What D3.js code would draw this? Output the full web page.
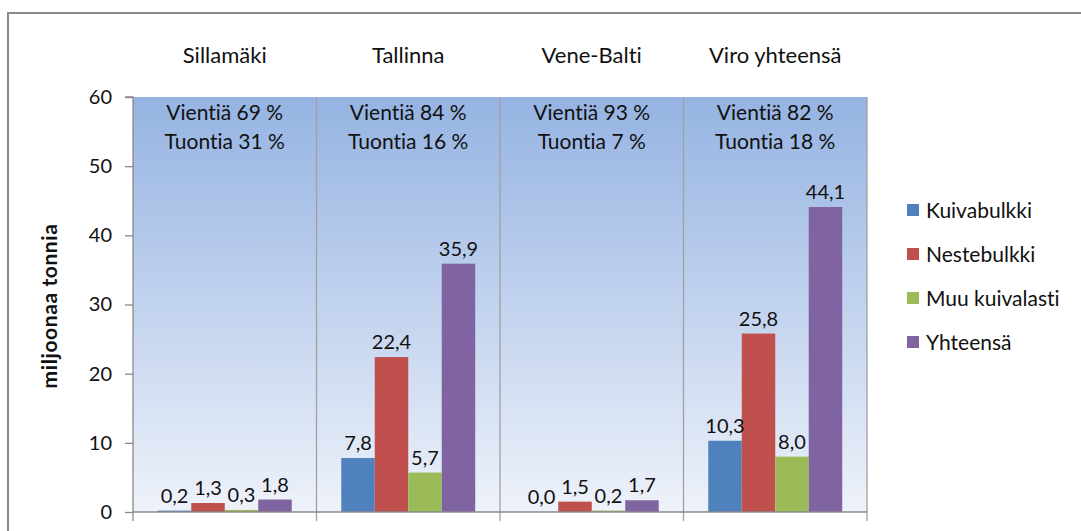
<!DOCTYPE html>
<html>
<head>
<meta charset="utf-8">
<script src="https://cdn.jsdelivr.net/npm/d3@7"></script>
<style>
  body { margin: 0; background: #fff; }
  text { font-family: Lato, "Open Sans", sans-serif; fill: #111; font-variant-ligatures: none; font-feature-settings: "liga" 0, "clig" 0; }
</style>
</head>
<body>
<div id="chart"></div>
<script>
var categories = ['Sillamäki', 'Tallinna', 'Vene-Balti', 'Viro yhteensä'];
var series = ['Kuivabulkki', 'Nestebulkki', 'Muu kuivalasti', 'Yhteensä'];
var kuivabulkki = [0.2, 7.8, 0.0, 10.3];
var nestebulkki = [1.3, 22.4, 1.5, 25.8];
var muuKuivalasti = [0.3, 5.7, 0.2, 8.0];
var yhteensa = [1.8, 35.9, 1.7, 44.1];
var vienti = [69, 84, 93, 82];
var tuonti = [31, 16, 7, 18];
var yTicks = [0, 10, 20, 30, 40, 50, 60];
var colors = ['#4f81bd', '#c0504d', '#9bbb59', '#8064a2'];

var values = [kuivabulkki, nestebulkki, muuKuivalasti, yhteensa];

var width = 1081, height = 531;
var plot = { left: 133, right: 867, top: 97, bottom: 512 };

var svg = d3.select('#chart')
  .append('svg')
  .attr('width', width)
  .attr('height', height);

// outer chart border (runs off the right and bottom edge)
svg.append('rect')
  .attr('x', 8).attr('y', 13)
  .attr('width', 1100).attr('height', 560)
  .attr('fill', 'none')
  .attr('stroke', '#8a8a8a')
  .attr('stroke-width', 2);

var defs = svg.append('defs');
var grad = defs.append('linearGradient')
  .attr('id', 'bg-grad')
  .attr('x1', 0).attr('y1', 0).attr('x2', 0).attr('y2', 1);
grad.append('stop').attr('offset', '0%').attr('stop-color', '#95b3e2');
grad.append('stop').attr('offset', '100%').attr('stop-color', '#eef2fa');

var x0 = d3.scaleBand()
  .domain(categories)
  .range([plot.left, plot.right])
  .padding(0);

var x1 = d3.scaleBand()
  .domain(series)
  .range([0, x0.bandwidth()])
  .paddingInner(0)
  .paddingOuter(0.74);

var y = d3.scaleLinear()
  .domain([0, 60])
  .range([plot.bottom, plot.top]);

// plot area background
svg.append('rect')
  .attr('x', plot.left).attr('y', plot.top)
  .attr('width', plot.right - plot.left)
  .attr('height', plot.bottom - plot.top)
  .attr('fill', 'url(#bg-grad)');

// category dividers (and their ticks below the axis)
svg.selectAll('line.divider')
  .data(categories.slice(1).concat(['end']))
  .enter()
  .append('line')
  .attr('class', 'divider')
  .attr('x1', function(d, i) { return plot.left + x0.step() * (i + 1); })
  .attr('x2', function(d, i) { return plot.left + x0.step() * (i + 1); })
  .attr('y1', plot.top)
  .attr('y2', plot.bottom + 9)
  .attr('stroke', '#a0a0a0')
  .attr('stroke-width', 1.3);

// bars
var groups = svg.selectAll('g.cat')
  .data(categories)
  .enter()
  .append('g')
  .attr('class', 'cat')
  .attr('transform', function(d) { return 'translate(' + x0(d) + ',0)'; });

var fmt = function(v) { return v.toFixed(1).replace('.', ','); };

groups.each(function(cat, ci) {
  var g = d3.select(this);
  var rows = series.map(function(s, si) { return { s: s, si: si, v: values[si][ci] }; });
  g.selectAll('rect')
    .data(rows)
    .enter()
    .append('rect')
    .attr('x', function(d) { return x1(d.s); })
    .attr('y', function(d) { return y(d.v); })
    .attr('width', x1.bandwidth())
    .attr('height', function(d) { return y(0) - y(d.v); })
    .attr('fill', function(d) { return colors[d.si]; });
  g.selectAll('text.val')
    .data(rows)
    .enter()
    .append('text')
    .attr('class', 'val')
    .attr('x', function(d) { return x1(d.s) + x1.bandwidth() / 2; })
    .attr('y', function(d) { return y(d.v) - 8; })
    .attr('text-anchor', 'middle')
    .style('font-size', '20px')
    .text(function(d) { return fmt(d.v); });

  g.append('text')
    .attr('x', x0.bandwidth() / 2)
    .attr('y', 63)
    .attr('text-anchor', 'middle')
    .style('font-size', '22px')
    .text(cat);
  g.append('text')
    .attr('x', x0.bandwidth() / 2)
    .attr('y', 120)
    .attr('text-anchor', 'middle')
    .style('font-size', '21px')
    .text('Vientiä ' + vienti[ci] + ' %');
  g.append('text')
    .attr('x', x0.bandwidth() / 2)
    .attr('y', 149)
    .attr('text-anchor', 'middle')
    .style('font-size', '21px')
    .text('Tuontia ' + tuonti[ci] + ' %');
});

// y axis
var yAxis = svg.append('g')
  .attr('transform', 'translate(' + plot.left + ',0)')
  .call(d3.axisLeft(y).tickValues(yTicks).tickSize(8).tickPadding(13));
yAxis.selectAll('line').attr('stroke', '#8a8a8a').attr('stroke-width', 1.3);
yAxis.select('.domain').attr('stroke', '#8a8a8a').attr('stroke-width', 1.3)
  .attr('d', 'M-8,' + plot.top + 'H0V' + (plot.bottom + 9));
yAxis.selectAll('text')
  .style('font-size', '20px')
  .style('font-family', 'Lato, sans-serif')
  .attr('fill', '#111');

// x axis baseline
svg.append('line')
  .attr('x1', plot.left).attr('x2', plot.right)
  .attr('y1', y(0)).attr('y2', y(0))
  .attr('stroke', '#8a8a8a')
  .attr('stroke-width', 1.3);

// y title
svg.append('text')
  .attr('transform', 'translate(57,' + 306 + ') rotate(-90)')
  .attr('text-anchor', 'middle')
  .style('font-size', '21px')
  .style('font-weight', 'bold')
  .style('letter-spacing', '0.6px')
  .text('miljoonaa tonnia');

// legend
var legend = svg.selectAll('g.legend')
  .data(series)
  .enter()
  .append('g')
  .attr('class', 'legend')
  .attr('transform', function(d, i) { return 'translate(907,' + (210 + i * 44) + ')'; });
legend.append('rect')
  .attr('x', 0).attr('y', -6)
  .attr('width', 12).attr('height', 12)
  .attr('fill', function(d, i) { return colors[i]; });
legend.append('text')
  .attr('x', 19)
  .attr('y', 8)
  .style('font-size', '21px')
  .text(function(d) { return d; });
</script>
</body>
</html>
